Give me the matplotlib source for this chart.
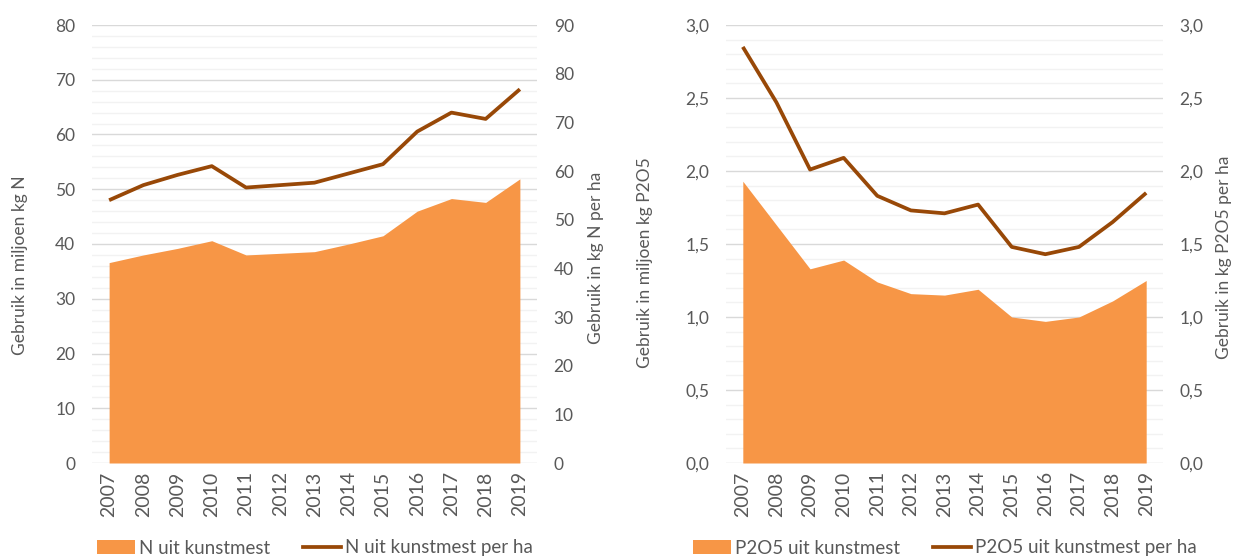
import matplotlib
matplotlib.use("Agg")
import matplotlib.pyplot as plt
from matplotlib.ticker import MultipleLocator, FuncFormatter
from matplotlib.patches import Patch
from matplotlib.lines import Line2D

plt.rcParams['font.family'] = ['Lato', 'DejaVu Sans']

years = [str(y) for y in range(2007, 2020)]

# N uit kunstmest (miljoen kg N) en per ha (kg N/ha)
n_total = [36.6, 38.0, 39.2, 40.6, 38.0, 38.3, 38.6, 40.0, 41.5, 46.0, 48.3, 47.6, 51.9]
n_per_ha = [54.0, 57.1, 59.2, 61.0, 56.6, 57.1, 57.6, 59.5, 61.4, 68.1, 72.0, 70.7, 76.8]

# P2O5 uit kunstmest (miljoen kg P2O5) en per ha (kg P2O5/ha)
p_total = [1.93, 1.63, 1.33, 1.39, 1.24, 1.16, 1.15, 1.19, 1.00, 0.97, 1.00, 1.11, 1.25]
p_per_ha = [2.85, 2.47, 2.01, 2.09, 1.83, 1.73, 1.71, 1.77, 1.48, 1.43, 1.48, 1.65, 1.85]

AREA = '#F79646'
LINE = '#984807'
TXT = '#595959'
FS = 12.5
W, H = 1235, 559

comma = FuncFormatter(lambda v, p: f"{v:.1f}".replace('.', ','))
intfmt = FuncFormatter(lambda v, p: f"{v:.0f}")


def px_to_axes(ax, px, py):
    # pixel (from top-left) -> axes fraction
    b = ax.get_position()
    return ((px / W - b.x0) / b.width, ((1 - py / H) - b.y0) / b.height)


def panel(rect, area, line, ylim1, ylim2, major, minor, fmt, lab1, lab2, lab_pos,
          leg1, leg2, leg_x):
    ax = fig.add_axes(rect)
    x = range(len(years))
    ax.fill_between(x, 0, area, color=AREA, lw=0, zorder=2)
    ax.set_xlim(-0.5, len(years) - 0.5)
    ax.set_ylim(*ylim1)
    ax.yaxis.set_major_locator(MultipleLocator(major[0]))
    ax.yaxis.set_minor_locator(MultipleLocator(minor[0]))
    ax.yaxis.set_major_formatter(fmt)
    ax.grid(which='major', axis='y', color='#D9D9D9', lw=1.0, zorder=0)
    ax.grid(which='minor', axis='y', color='#F2F2F2', lw=1.0, zorder=0)
    ax.set_axisbelow(True)
    ax.set_xticks(list(x))
    ax.set_xticklabels(years, rotation=90, fontsize=14)
    for s in ax.spines.values():
        s.set_visible(False)
    ax.tick_params(length=0, colors=TXT)
    ax.tick_params(axis='y', labelsize=FS, pad=12)
    ax.tick_params(axis='y', which='minor', length=0)
    ax.tick_params(axis='x', pad=6)
    ax.set_ylabel(lab1, fontsize=FS, color=TXT)
    ax.yaxis.label.set_va('center')
    ax.yaxis.set_label_coords(*px_to_axes(ax, *lab_pos[0]))

    ax2 = ax.twinx()
    ax2.plot(x, line, color=LINE, lw=2.7, zorder=3, solid_capstyle='butt')
    ax2.set_ylim(*ylim2)
    ax2.yaxis.set_major_locator(MultipleLocator(major[1]))
    ax2.yaxis.set_major_formatter(fmt)
    for s in ax2.spines.values():
        s.set_visible(False)
    ax2.tick_params(length=0, labelsize=FS, colors=TXT, pad=12)
    ax2.set_ylabel(lab2, fontsize=FS, color=TXT)
    ax2.yaxis.label.set_va('center')
    ax2.yaxis.set_label_coords(*px_to_axes(ax2, *lab_pos[1]))

    handles = [Patch(facecolor=AREA, edgecolor='none'),
               Line2D([0], [0], color=LINE, lw=2.7)]
    fig.legend(handles, [leg1, leg2], loc='center left',
               bbox_to_anchor=(leg_x, 1 - 548 / H), ncol=2, frameon=False,
               fontsize=13.5, labelcolor=TXT, handlelength=2.0, handleheight=0.85,
               handletextpad=0.25, columnspacing=1.75, borderaxespad=0, borderpad=0)


fig = plt.figure(figsize=(12.35, 5.59), dpi=100)

panel([92 / W, 96 / H, 445 / W, 438 / H], n_total, n_per_ha,
      (0, 80), (0, 90), (10, 10), (2, 2), intfmt,
      'Gebruik in miljoen kg N', 'Gebruik in kg N per ha', [(19.5, 265), (596, 258)],
      'N uit kunstmest', 'N uit kunstmest per ha', 97 / W)

panel([726 / W, 96 / H, 437 / W, 438 / H], p_total, p_per_ha,
      (0, 3.0), (0, 3.0), (0.5, 0.5), (0.1, 0.1), comma,
      'Gebruik in miljoen kg P2O5', 'Gebruik in kg P2O5 per ha', [(645, 263), (1224, 257)],
      'P2O5 uit kunstmest', 'P2O5 uit kunstmest per ha', 693 / W)

fig.savefig('out.png', dpi=100)
